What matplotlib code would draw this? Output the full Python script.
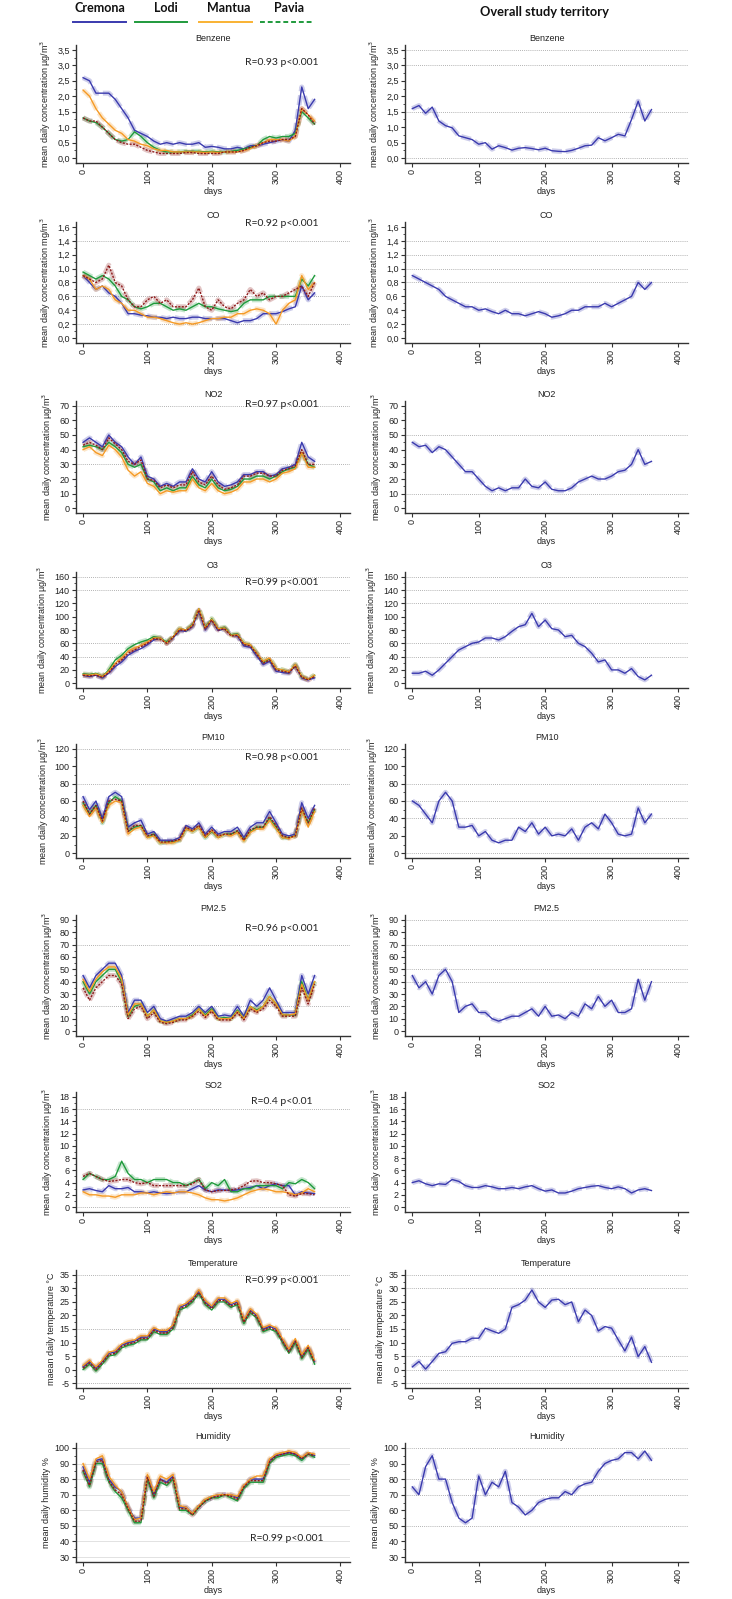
import matplotlib
matplotlib.use("Agg")
import matplotlib.pyplot as plt
from matplotlib.lines import Line2D
from matplotlib.ticker import MultipleLocator, FuncFormatter

plt.rcParams['font.family'] = ['Liberation Sans', 'DejaVu Sans']

W, H = 732, 1599
fig = plt.figure(figsize=(W / 100, H / 100), dpi=100)

# ---------------- data (smoothed daily means, read every 10 days) ----------------
days = list(range(0, 361, 10))
cities = ["Cremona", "Lodi", "Mantua", "Pavia"]

benzene_cremona = [2.6, 2.5, 2.1, 2.1, 2.1, 1.9, 1.6, 1.3, 0.9, 0.8,
                   0.7, 0.55, 0.45, 0.5, 0.45, 0.5, 0.45, 0.45, 0.5, 0.35,
                   0.38, 0.35, 0.3, 0.3, 0.35, 0.3, 0.4, 0.4, 0.45, 0.5,
                   0.55, 0.6, 0.55, 0.9, 2.3, 1.6, 1.9]
benzene_lodi = [1.3, 1.2, 1.15, 1.0, 0.8, 0.6, 0.55, 0.6, 0.85, 0.7,
                0.5, 0.35, 0.25, 0.2, 0.2, 0.2, 0.22, 0.22, 0.22, 0.2,
                0.22, 0.2, 0.2, 0.22, 0.25, 0.3, 0.35, 0.4, 0.6, 0.7,
                0.65, 0.7, 0.7, 0.8, 1.5, 1.3, 1.1]
benzene_mantua = [2.2, 2.0, 1.6, 1.3, 1.1, 0.9, 0.8, 0.6, 0.55, 0.45,
                  0.4, 0.3, 0.25, 0.25, 0.2, 0.2, 0.2, 0.2, 0.2, 0.18,
                  0.2, 0.18, 0.2, 0.2, 0.2, 0.25, 0.3, 0.4, 0.5, 0.6,
                  0.6, 0.6, 0.55, 0.7, 1.6, 1.4, 1.2]
benzene_pavia = [1.3, 1.2, 1.2, 1.0, 0.8, 0.6, 0.5, 0.45, 0.45, 0.35,
                 0.25, 0.2, 0.15, 0.15, 0.15, 0.15, 0.18, 0.18, 0.15, 0.15,
                 0.15, 0.15, 0.2, 0.2, 0.2, 0.25, 0.35, 0.4, 0.5, 0.55,
                 0.55, 0.6, 0.6, 0.7, 1.6, 1.4, 1.1]
benzene_overall = [1.6, 1.7, 1.45, 1.65, 1.2, 1.05, 0.98, 0.72, 0.66, 0.6,
                   0.45, 0.5, 0.29, 0.4, 0.34, 0.26, 0.32, 0.34, 0.31, 0.27,
                   0.32, 0.24, 0.22, 0.21, 0.25, 0.32, 0.4, 0.42, 0.66, 0.56,
                   0.66, 0.77, 0.72, 1.25, 1.84, 1.2, 1.57]

co_cremona = [0.9, 0.8, 0.7, 0.75, 0.65, 0.6, 0.5, 0.35, 0.35, 0.33,
              0.32, 0.3, 0.3, 0.28, 0.3, 0.28, 0.28, 0.3, 0.3, 0.28,
              0.28, 0.28, 0.28, 0.25, 0.22, 0.25, 0.25, 0.28, 0.35, 0.35,
              0.35, 0.38, 0.42, 0.45, 0.75, 0.55, 0.65]
co_lodi = [0.95, 0.9, 0.85, 0.9, 0.85, 0.75, 0.6, 0.55, 0.45, 0.42,
           0.45, 0.5, 0.5, 0.45, 0.4, 0.42, 0.4, 0.45, 0.5, 0.45,
           0.45, 0.42, 0.4, 0.38, 0.4, 0.5, 0.55, 0.55, 0.55, 0.6,
           0.6, 0.6, 0.6, 0.6, 0.85, 0.75, 0.9]
co_mantua = [0.9, 0.85, 0.7, 0.75, 0.7, 0.55, 0.5, 0.4, 0.4, 0.35,
             0.3, 0.3, 0.28, 0.25, 0.22, 0.2, 0.22, 0.2, 0.22, 0.25,
             0.28, 0.28, 0.3, 0.3, 0.35, 0.35, 0.4, 0.42, 0.4, 0.35,
             0.2, 0.4, 0.5, 0.55, 0.9, 0.7, 0.8]
co_pavia = [0.9, 0.85, 0.8, 0.85, 1.05, 0.8, 0.75, 0.55, 0.45, 0.45,
            0.55, 0.6, 0.5, 0.55, 0.45, 0.45, 0.45, 0.55, 0.72, 0.45,
            0.4, 0.55, 0.45, 0.42, 0.5, 0.55, 0.7, 0.6, 0.65, 0.55,
            0.6, 0.6, 0.65, 0.7, 0.75, 0.6, 0.8]
co_overall = [0.9, 0.85, 0.8, 0.75, 0.7, 0.6, 0.55, 0.5, 0.45, 0.45,
              0.4, 0.42, 0.38, 0.35, 0.4, 0.35, 0.35, 0.32, 0.35, 0.38,
              0.35, 0.3, 0.32, 0.35, 0.4, 0.4, 0.45, 0.45, 0.45, 0.5,
              0.45, 0.5, 0.55, 0.6, 0.8, 0.7, 0.8]

no2_cremona = [45, 48, 45, 42, 50, 45, 42, 35, 30, 35,
               22, 20, 15, 17, 15, 18, 18, 27, 20, 18,
               25, 18, 15, 16, 18, 23, 23, 25, 25, 22,
               23, 27, 28, 30, 45, 35, 32]
no2_lodi = [42, 43, 42, 40, 45, 42, 38, 30, 28, 30,
            20, 18, 12, 14, 12, 14, 14, 22, 16, 14,
            20, 14, 12, 13, 15, 20, 20, 22, 22, 20,
            22, 25, 27, 28, 38, 30, 28]
no2_mantua = [40, 42, 38, 36, 43, 40, 35, 26, 22, 25,
              17, 15, 10, 12, 11, 12, 12, 20, 14, 12,
              17, 12, 10, 11, 13, 18, 18, 20, 20, 18,
              20, 24, 25, 27, 38, 28, 28]
no2_pavia = [43, 45, 43, 40, 48, 44, 40, 32, 30, 33,
             20, 19, 14, 16, 14, 16, 16, 25, 18, 16,
             22, 16, 13, 14, 16, 22, 22, 24, 24, 22,
             22, 26, 27, 29, 40, 30, 30]
no2_overall = [45, 42, 43, 38, 42, 40, 35, 30, 25, 25,
               20, 15, 12, 14, 12, 14, 14, 20, 15, 14,
               18, 13, 12, 12, 14, 18, 20, 22, 20, 20,
               22, 25, 26, 30, 40, 30, 32]

o3_cremona = [12, 10, 12, 8, 15, 25, 32, 42, 48, 52,
              58, 65, 68, 60, 68, 79, 78, 85, 108, 80,
              95, 79, 82, 72, 71, 56, 54, 41, 28, 33,
              18, 16, 15, 26, 8, 5, 8]
o3_lodi = [14, 13, 15, 10, 20, 35, 42, 52, 58, 62,
           65, 70, 68, 62, 70, 82, 80, 88, 112, 84,
           97, 82, 84, 73, 74, 60, 58, 45, 32, 37,
           22, 20, 17, 28, 10, 6, 12]
o3_mantua = [13, 12, 14, 10, 18, 30, 38, 48, 53, 57,
             62, 68, 68, 60, 70, 82, 80, 87, 112, 83,
             96, 82, 83, 72, 73, 60, 58, 45, 33, 38,
             22, 20, 17, 28, 10, 6, 12]
o3_pavia = [12, 11, 12, 9, 16, 28, 35, 45, 50, 55,
            60, 67, 66, 60, 69, 80, 79, 86, 110, 82,
            95, 80, 82, 71, 72, 58, 56, 44, 30, 35,
            20, 18, 16, 26, 9, 5, 10]
o3_overall = [15, 15, 18, 12, 20, 30, 40, 50, 55, 60,
              62, 68, 68, 65, 70, 78, 85, 88, 105, 85,
              95, 82, 80, 70, 72, 60, 55, 45, 32, 35,
              20, 20, 15, 22, 10, 5, 12]

pm10_cremona = [65, 50, 60, 40, 65, 70, 65, 30, 35, 38,
                22, 25, 15, 15, 15, 18, 32, 28, 35, 22,
                30, 22, 25, 25, 30, 18, 30, 35, 35, 48,
                35, 22, 20, 22, 58, 40, 55]
pm10_lodi = [58, 45, 55, 35, 58, 65, 60, 25, 30, 32,
             18, 22, 12, 13, 13, 15, 28, 25, 30, 18,
             25, 18, 22, 22, 25, 15, 25, 30, 30, 40,
             30, 18, 18, 20, 50, 35, 50]
pm10_mantua = [55, 42, 52, 35, 55, 60, 58, 22, 28, 30,
               18, 20, 12, 12, 12, 15, 28, 25, 30, 18,
               26, 18, 22, 20, 24, 14, 24, 28, 28, 38,
               28, 18, 17, 20, 50, 30, 48]
pm10_pavia = [60, 45, 55, 37, 60, 62, 60, 25, 32, 32,
              20, 22, 13, 13, 14, 16, 30, 26, 32, 20,
              27, 20, 22, 22, 26, 15, 27, 30, 30, 42,
              32, 20, 18, 20, 52, 35, 52]
pm10_overall = [60, 55, 45, 35, 60, 70, 60, 30, 30, 32,
                20, 25, 15, 12, 15, 15, 30, 25, 35, 22,
                30, 20, 22, 20, 28, 15, 30, 35, 28, 45,
                35, 22, 20, 22, 52, 35, 45]

pm25_cremona = [45, 35, 45, 50, 55, 55, 45, 15, 25, 25,
                15, 20, 10, 8, 10, 12, 12, 15, 20, 15,
                20, 12, 13, 12, 20, 12, 25, 20, 25, 35,
                25, 15, 15, 15, 45, 30, 45]
pm25_lodi = [40, 30, 40, 45, 50, 50, 40, 12, 20, 22,
             12, 17, 8, 7, 8, 10, 10, 13, 18, 13,
             18, 10, 11, 10, 17, 10, 20, 17, 20, 28,
             22, 13, 13, 13, 40, 25, 40]
pm25_mantua = [42, 32, 42, 48, 52, 52, 42, 13, 22, 22,
               12, 17, 8, 7, 8, 10, 10, 12, 18, 12,
               17, 10, 10, 10, 16, 10, 20, 16, 20, 28,
               22, 13, 13, 14, 38, 25, 40]
pm25_pavia = [35, 25, 35, 40, 45, 45, 38, 10, 18, 20,
              10, 15, 7, 6, 7, 9, 9, 12, 16, 11,
              16, 9, 9, 9, 15, 9, 18, 15, 18, 25,
              20, 12, 12, 12, 35, 22, 38]
pm25_overall = [45, 35, 40, 30, 45, 50, 40, 15, 20, 22,
                15, 15, 10, 8, 10, 12, 12, 15, 18, 12,
                20, 12, 13, 10, 15, 12, 22, 18, 28, 20,
                25, 15, 15, 18, 42, 25, 40]

so2_cremona = [2.8, 3.0, 2.7, 2.5, 3.5, 3.0, 3.0, 3.2, 2.5, 2.5,
               2.3, 2.5, 2.3, 2.2, 2.3, 2.5, 2.5, 3.0, 3.5, 2.8,
               2.5, 2.8, 2.8, 2.7, 2.8, 3.0, 3.2, 3.5, 3.0, 3.5,
               3.8, 3.5, 3.5, 2.0, 2.5, 2.3, 2.2]
so2_lodi = [4.5, 5.5, 5.0, 4.5, 4.5, 5.0, 7.5, 5.5, 4.5, 4.5,
            4.0, 4.5, 4.5, 4.5, 4.0, 4.0, 3.5, 4.0, 4.5, 3.0,
            4.0, 3.5, 4.5, 2.5, 2.5, 3.0, 3.0, 3.5, 3.5, 3.5,
            3.5, 3.0, 4.0, 3.8, 4.5, 4.0, 3.0]
so2_mantua = [2.5, 2.0, 2.0, 1.8, 1.8, 1.6, 2.0, 2.0, 2.0, 2.3,
              2.3, 2.0, 2.3, 2.5, 2.3, 2.5, 2.5, 2.3, 2.0, 1.5,
              1.2, 1.2, 1.0, 1.2, 1.5, 2.0, 2.5, 2.8, 3.0, 2.8,
              2.5, 2.5, 2.3, 2.0, 2.3, 3.0, 2.5]
so2_pavia = [5.0, 5.5, 5.0, 4.5, 4.2, 4.3, 4.5, 4.5, 4.0, 3.8,
             4.0, 3.5, 3.5, 3.5, 3.5, 3.5, 3.5, 3.8, 4.5, 2.8,
             2.5, 2.7, 2.7, 2.8, 3.0, 3.5, 4.2, 4.3, 4.0, 4.0,
             3.8, 3.5, 2.0, 1.8, 2.2, 2.2, 2.0]
so2_overall = [4.0, 4.3, 3.8, 3.5, 3.8, 3.7, 4.5, 4.2, 3.5, 3.2,
               3.2, 3.5, 3.3, 3.0, 3.0, 3.2, 3.0, 3.3, 3.5, 3.0,
               2.6, 2.8, 2.3, 2.3, 2.6, 3.0, 3.2, 3.4, 3.5, 3.2,
               3.0, 3.3, 3.0, 2.3, 2.8, 3.0, 2.7]

temp_cremona = [1, 3, 0.5, 3, 6, 6.5, 9, 10, 10.5, 12,
                12, 15, 14, 14, 16, 23, 24, 26, 29, 25,
                23, 26, 26, 24, 25, 18, 22, 20, 15, 16,
                15, 11, 7, 11, 5, 8.5, 3]
temp_lodi = [0, 2, -0.5, 2, 5, 5.5, 8, 9, 9.5, 11,
             11, 14, 13, 13, 15, 22, 23, 25, 28, 24,
             22, 25, 25, 23, 24, 17, 21, 19, 14, 15,
             14, 10, 6, 10, 4, 7.5, 2]
temp_mantua = [1.5, 3.5, 1, 3.5, 6.5, 7, 9.5, 10.5, 11, 12.5,
               12.5, 15.5, 14.5, 14.5, 16.5, 23.5, 24.5, 26.5, 29.5, 25.5,
               23.5, 26.5, 26.5, 24.5, 25.5, 18.5, 22.5, 20.5, 15.5, 16.5,
               15.5, 11.5, 7.5, 11.5, 5.5, 9, 3.5]
temp_pavia = [0.5, 2.5, 0, 2.5, 5.5, 6, 8.5, 9.5, 10, 11.5,
              11.5, 14.5, 13.5, 13.5, 15.5, 22.5, 23.5, 25.5, 28.5, 24.5,
              22.5, 25.5, 25.5, 23.5, 24.5, 17.5, 21.5, 19.5, 14.5, 15.5,
              14.5, 10.5, 6.5, 10.5, 4.5, 8, 2.5]
temp_overall = [1, 3, 0.2, 3, 6, 6.6, 9.7, 10.3, 10.3, 11.6,
                11.6, 15.3, 14.3, 13.4, 15, 23, 24, 25.7, 29.4, 25,
                23, 25.7, 26, 24, 25, 17.7, 22, 20, 14.3, 15.9,
                15.3, 11, 6.9, 12, 4.8, 8.5, 2.7]

hum_cremona = [88, 78, 92, 93, 80, 75, 72, 62, 55, 55,
               82, 70, 80, 78, 82, 62, 62, 58, 62, 66,
               68, 70, 70, 70, 68, 75, 80, 80, 80, 92,
               95, 96, 97, 96, 93, 97, 95]
hum_lodi = [85, 75, 90, 90, 78, 72, 68, 60, 52, 52,
            80, 68, 78, 76, 80, 60, 60, 57, 62, 66,
            68, 68, 70, 68, 66, 74, 78, 78, 78, 90,
            94, 95, 96, 95, 92, 96, 94]
hum_mantua = [90, 80, 93, 95, 82, 76, 72, 62, 54, 55,
              83, 72, 82, 80, 83, 63, 62, 58, 63, 67,
              69, 70, 70, 70, 69, 76, 80, 82, 82, 93,
              96, 97, 98, 97, 94, 97, 96]
hum_pavia = [86, 76, 91, 92, 79, 73, 70, 61, 53, 53,
             81, 69, 80, 77, 81, 61, 61, 57, 62, 66,
             68, 69, 70, 69, 67, 75, 79, 79, 79, 91,
             95, 96, 97, 96, 93, 96, 95]
hum_overall = [75, 70, 88, 95, 80, 80, 65, 55, 52, 55,
               82, 70, 78, 75, 85, 65, 62, 57, 60, 65,
               67, 68, 68, 72, 70, 75, 77, 78, 85, 90,
               92, 93, 97, 97, 93, 98, 92]

x_ticks = [0, 100, 200, 300, 400]
r_labels = ["R=0.93 p<0.001", "R=0.92 p<0.001", "R=0.97 p<0.001", "R=0.99 p<0.001",
            "R=0.98 p<0.001", "R=0.96 p<0.001", "R=0.4 p<0.01", "R=0.99 p<0.001",
            "R=0.99 p<0.001"]

conc = "mean daily concentration \u00b5g/m$^3$"
panels = [
    dict(title="Benzene", city=[benzene_cremona, benzene_lodi, benzene_mantua, benzene_pavia],
         overall=benzene_overall, yl=conc, yr=conc, lo=0, hi=3.5, step=0.5, comma=True,
         gl=[], gr=[3.5, 3.0, 1.5, 0.0], ry=0.85, rx=0.75),
    dict(title="CO", city=[co_cremona, co_lodi, co_mantua, co_pavia],
         overall=co_overall, yl="mean daily concentration mg/m$^3$",
         yr="mean daily concentration mg/m$^3$", lo=0, hi=1.6, step=0.2, comma=True,
         gl=[1.4, 0.6, 0.2], gr=[1.4, 1.2, 1.0, 0.8], ry=0.985, rx=0.75),
    dict(title="NO2", city=[no2_cremona, no2_lodi, no2_mantua, no2_pavia],
         overall=no2_overall, yl=conc, yr=conc, lo=0, hi=70, step=10, comma=False,
         gl=[70, 30], gr=[50, 10], ry=0.965, rx=0.75),
    dict(title="O3", city=[o3_cremona, o3_lodi, o3_mantua, o3_pavia],
         overall=o3_overall, yl=conc, yr=conc, lo=0, hi=160, step=20, comma=False,
         gl=[160, 140, 60, 40], gr=[160, 140, 120, 60, 40], ry=0.91, rx=0.75),
    dict(title="PM10", city=[pm10_cremona, pm10_lodi, pm10_mantua, pm10_pavia],
         overall=pm10_overall, yl=conc, yr=conc, lo=0, hi=120, step=20, comma=False,
         gl=[120, 80], gr=[80, 60, 40, 0], ry=0.885, rx=0.75),
    dict(title="PM2.5", city=[pm25_cremona, pm25_lodi, pm25_mantua, pm25_pavia],
         overall=pm25_overall, yl=conc, yr=conc, lo=0, hi=90, step=10, comma=False,
         gl=[70, 20], gr=[90, 70, 50, 40], ry=0.89, rx=0.75),
    dict(title="SO2", city=[so2_cremona, so2_lodi, so2_mantua, so2_pavia],
         overall=so2_overall, yl=conc, yr=conc, lo=0, hi=18, step=2, comma=False,
         gl=[16, 0], gr=[], ry=0.92, rx=0.75),
    dict(title="Temperature", city=[temp_cremona, temp_lodi, temp_mantua, temp_pavia],
         overall=temp_overall, yl="maean daily temperature \u00b0C",
         yr="mean daily temperature \u00b0C", lo=-5, hi=35, step=5, comma=False,
         gl=[35, 15, -5], gr=[35, 30, 5, 0, -5], ry=0.91, rx=0.75),
    dict(title="Humidity", city=[hum_cremona, hum_lodi, hum_mantua, hum_pavia],
         overall=hum_overall, yl="mean daily humidity %", yr="mean daily humidity %",
         lo=30, hi=100, step=10, comma=False,
         gl=[], gr=[100, 80, 70, 50], ry=0.2, rx=0.77, lightgrid=True),
]

# ---------------- styling / layout ----------------
city_colors = ["#3a3aae", "#1f9a3c", "#f59a25", "#8e1b1b"]
city_styles = ["-", "-", "-", (0, (1.5, 1.0))]
overall_color = "#3a3aae"
legend_colors = ["#3a3aae", "#1f9a3c", "#f9b233", "#1f9a3c"]
legend_styles = ["-", "-", "-", (0, (2.5, 1.5))]

rows = [(45, 163), (222, 343), (401, 513), (572, 688), (744, 858),
        (915, 1036), (1092, 1212), (1270, 1388), (1443, 1562)]
cols = [(76, 350), (405, 688)]
FS = 6.5


def style_axes(ax, p, ylabel):
    for s in ["top", "right"]:
        ax.spines[s].set_visible(False)
    for s in ["left", "bottom"]:
        ax.spines[s].set_color("#333333")
        ax.spines[s].set_linewidth(1.0)
    span = p["hi"] - p["lo"]
    ax.set_ylim(p["lo"] - 0.045 * span, p["hi"] + 0.045 * span)
    ax.set_xlim(-11, 415)
    ax.yaxis.set_major_locator(MultipleLocator(p["step"]))
    ax.yaxis.set_minor_locator(MultipleLocator(p["step"] / 2))
    if p["comma"]:
        ax.yaxis.set_major_formatter(FuncFormatter(lambda v, _: f"{v:.1f}".replace(".", ",")))
    else:
        ax.yaxis.set_major_formatter(FuncFormatter(lambda v, _: f"{v:.0f}"))
    ax.set_xticks(x_ticks)
    ax.set_xticklabels([str(t) for t in x_ticks], rotation=90)
    ax.tick_params(axis="both", which="major", labelsize=FS, length=3, width=0.8,
                   color="#333333", labelcolor="#222222", pad=1.5)
    ax.tick_params(axis="y", which="minor", length=1.8, width=0.6, color="#333333")
    ax.set_xlabel("days", fontsize=FS, labelpad=2, color="#222222")
    ax.set_ylabel(ylabel, fontsize=FS, labelpad=3, color="#222222")
    ax.set_title(p["title"], fontsize=FS, pad=3, color="#222222")


for i, p in enumerate(panels):
    top, bot = rows[i]
    # left: four cities
    x0, x1 = cols[0]
    axl = fig.add_axes([x0 / W, 1 - bot / H, (x1 - x0) / W, (bot - top) / H])
    style_axes(axl, p, p["yl"])
    if p.get("lightgrid"):
        for v in range(p["lo"], p["hi"] + 1, p["step"]):
            axl.axhline(v, color="#dddddd", lw=0.6, zorder=0)
    for v in p["gl"]:
        axl.axhline(v, color="#9a9a9a", lw=0.6, ls=(0, (1, 1.5)), zorder=0)
    for vals, c in zip(p["city"], city_colors):
        axl.plot(days, vals, color=c, lw=3.6, alpha=0.25, ls=(0, (2.0, 0.8)),
                 solid_joinstyle="round", zorder=2)
    for vals, c, ls in zip(p["city"], city_colors, city_styles):
        axl.plot(days, vals, color=c, lw=1.0, ls=ls, zorder=3)
    axl.text(p["rx"], p["ry"], r_labels[i], transform=axl.transAxes, ha="center",
             va="center", fontsize=7.5, family=["Lato", "DejaVu Sans"], color="#222222")

    # right: overall study territory
    x0, x1 = cols[1]
    axr = fig.add_axes([x0 / W, 1 - bot / H, (x1 - x0) / W, (bot - top) / H])
    style_axes(axr, p, p["yr"])
    for v in p["gr"]:
        axr.axhline(v, color="#9a9a9a", lw=0.6, ls=(0, (1, 1.5)), zorder=0)
    axr.plot(days, p["overall"], color=overall_color, lw=3.6, alpha=0.25,
             ls=(0, (2.0, 0.8)), zorder=2)
    axr.plot(days, p["overall"], color=overall_color, lw=1.0, zorder=3)

# ---------------- legend at the top ----------------
leg_text_x = [100, 166, 229, 289]
leg_line_x = [(73, 126), (135, 187), (199, 252), (260, 313)]
for name, tx, (lx0, lx1), c, ls in zip(cities, leg_text_x, leg_line_x, legend_colors, legend_styles):
    fig.text(tx / W, 1 - 8.5 / H, name, ha="center", va="center", fontsize=9,
             fontweight="bold", family=["Lato", "DejaVu Sans"], color="#111111")
    fig.add_artist(Line2D([lx0 / W, lx1 / W], [1 - 21.5 / H, 1 - 21.5 / H],
                          transform=fig.transFigure, color=c, lw=1.4, ls=ls))

fig.text(544 / W, 1 - 12.5 / H, "Overall study territory", ha="center", va="center",
         fontsize=9.3, fontweight="bold", family=["Lato", "DejaVu Sans"], color="#111111")

fig.savefig("out.png", dpi=100, facecolor="white")
